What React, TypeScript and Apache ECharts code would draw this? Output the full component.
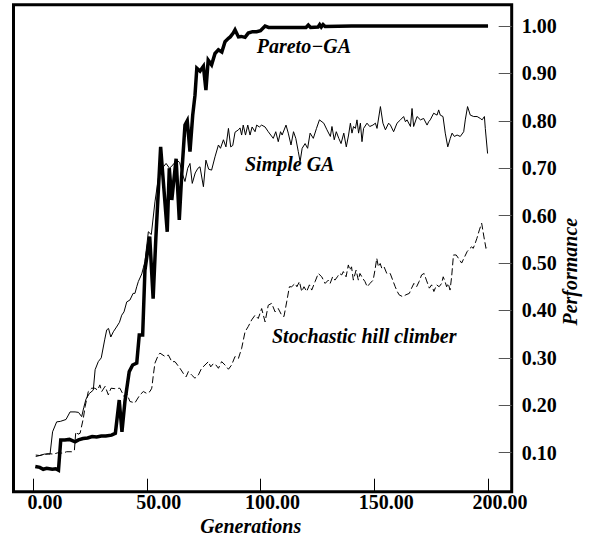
import React, { useEffect, useRef } from 'react';
import * as echarts from 'echarts';

const xTickValues = [0, 50, 100, 150, 200];
const xTickLabels = ['0.00', '50.00', '100.00', '150.00', '200.00'];
const yTickValues = [0.1, 0.2, 0.3, 0.4, 0.5, 0.6, 0.7, 0.8, 0.9, 1.0];
const yTickLabels = ['0.10', '0.20', '0.30', '0.40', '0.50', '0.60', '0.70', '0.80', '0.90', '1.00'];

const seriesNames = ['Pareto−GA', 'Simple GA', 'Stochastic hill climber'];
const xAxisName = 'Generations';
const yAxisName = 'Performance';

const paretoGA: [number, number][] = [
  [1, 0.071], [3, 0.069], [4.5, 0.065], [6, 0.067], [8.5, 0.065], [10, 0.066], [11.2, 0.063], [12.2, 0.127],
  [14, 0.127], [16, 0.128], [18.5, 0.123], [20, 0.127], [22, 0.13], [24, 0.131], [26, 0.134], [28, 0.133],
  [30, 0.135], [32, 0.135], [34.5, 0.137], [36.2, 0.141], [37.9, 0.211], [39.1, 0.144], [40.4, 0.208],
  [42.3, 0.271], [43.8, 0.285], [45.6, 0.289], [46.7, 0.348], [48.2, 0.348], [49.2, 0.485], [51.3, 0.556],
  [52.8, 0.425], [54, 0.553], [56.1, 0.745], [59, 0.566], [59.9, 0.7], [61, 0.633], [62.9, 0.72], [64.3, 0.591],
  [65.4, 0.689], [66.8, 0.791], [67.8, 0.8], [69, 0.735], [70.2, 0.812], [71.2, 0.854], [72, 0.911],
  [73.4, 0.905], [74.9, 0.915], [76, 0.865], [77, 0.928], [78.5, 0.918], [80, 0.942], [81.5, 0.95], [83, 0.945],
  [84.4, 0.967], [85.9, 0.974], [86.7, 0.977], [88, 0.985], [88.8, 0.992], [90.3, 0.977], [91.5, 0.978],
  [93.2, 0.976], [94.6, 0.985], [96.5, 0.988], [98.3, 0.988], [100, 0.99], [102, 1.0], [103.5, 0.997],
  [110, 0.997], [120, 0.997], [121, 1.002], [122, 0.997], [125.3, 0.998], [126, 1.003], [126.7, 0.998],
  [127.5, 1.003], [128.4, 0.999], [140, 1.0], [160, 1.0], [180, 1.0], [200, 1.0],
];

const simpleGA: [number, number][] = [
  [1.2, 0.095], [3, 0.094], [5, 0.097], [7.5, 0.097], [8.6, 0.144], [10.4, 0.165], [12, 0.166], [14.5, 0.17],
  [16.3, 0.186], [18.5, 0.186], [20, 0.185], [21.4, 0.176], [22.3, 0.195], [23.3, 0.213], [24.8, 0.225],
  [26.5, 0.232], [27.3, 0.275], [28.7, 0.292], [30, 0.3], [31.5, 0.338], [32.4, 0.359], [33.2, 0.362],
  [34.2, 0.344], [35.3, 0.355], [36.7, 0.365], [38, 0.375], [39, 0.39], [40, 0.397], [41.2, 0.418],
  [42.6, 0.422], [44, 0.436], [44.8, 0.436], [45.6, 0.45], [46.3, 0.461], [47.8, 0.477], [48.5, 0.49],
  [49.2, 0.503], [50.7, 0.566], [52, 0.56], [53.6, 0.629], [55.1, 0.679], [56, 0.693], [57.3, 0.703],
  [58.5, 0.71], [60, 0.7], [61.5, 0.707], [63.2, 0.717], [64.5, 0.712], [65.5, 0.69], [66.8, 0.672], [68, 0.7],
  [69, 0.71], [70, 0.668], [71.3, 0.69], [72.5, 0.7], [73.4, 0.703], [74.9, 0.661], [76, 0.717], [77.2, 0.698],
  [78.5, 0.696], [80, 0.724], [81.5, 0.749], [82.4, 0.742], [83.7, 0.76], [84.8, 0.745], [85.9, 0.784],
  [86.9, 0.745], [87.8, 0.748], [88.8, 0.776], [90.3, 0.781], [91, 0.785], [91.7, 0.77], [92.4, 0.791],
  [93.4, 0.77], [94.4, 0.791], [95.4, 0.77], [96.3, 0.787], [97.6, 0.777], [98.3, 0.791], [99.5, 0.787],
  [100.5, 0.791], [102, 0.787], [103.4, 0.777], [104.5, 0.77], [105.6, 0.763], [106.7, 0.777], [107.8, 0.756],
  [108.8, 0.777], [109.5, 0.77], [111.2, 0.791], [112.2, 0.774], [113.4, 0.749], [114.5, 0.777], [115.5, 0.763],
  [116.6, 0.735], [117.4, 0.714], [118.3, 0.742], [119.6, 0.752], [120.7, 0.742], [121.8, 0.774], [123.2, 0.763],
  [124.6, 0.784], [125.9, 0.802], [127.8, 0.795], [129.2, 0.781], [130.7, 0.767], [131.4, 0.788], [132.4, 0.76],
  [133.3, 0.777], [134.4, 0.763], [135.4, 0.752], [136.6, 0.774], [137.7, 0.745], [138.7, 0.77], [139.5, 0.795],
  [140.2, 0.774], [140.9, 0.788], [141.7, 0.784], [142.4, 0.802], [143.1, 0.774], [143.9, 0.795], [144.6, 0.756],
  [145.3, 0.784], [146.8, 0.795], [148, 0.788], [149.4, 0.791], [150.5, 0.795], [151.2, 0.784], [152.7, 0.83],
  [153.8, 0.795], [154.9, 0.781], [156.3, 0.795], [157.1, 0.791], [158.5, 0.777], [160, 0.795], [161.5, 0.802],
  [162.9, 0.809], [163.7, 0.798], [164.4, 0.802], [165.9, 0.788], [166.6, 0.826], [167.3, 0.788], [168.8, 0.809],
  [170.3, 0.802], [171.7, 0.805], [173.2, 0.791], [173.9, 0.798], [174.6, 0.802], [176.1, 0.816], [177.6, 0.812],
  [178.3, 0.823], [179, 0.812], [180.2, 0.809], [181.2, 0.774], [182.3, 0.745], [183.4, 0.763], [184.2, 0.774],
  [185.2, 0.767], [186.4, 0.77], [187.8, 0.767], [189.3, 0.777], [190, 0.802], [191, 0.83], [192.2, 0.812],
  [193.7, 0.809], [195.2, 0.809], [196.6, 0.805], [197.4, 0.802], [198.4, 0.809], [198.8, 0.784], [199.8, 0.731],
];

const hillClimber: [number, number][] = [
  [1.2, 0.092], [3.8, 0.095], [6.7, 0.098], [9, 0.097], [11.1, 0.1], [13, 0.099], [14.8, 0.102], [17, 0.102],
  [18.2, 0.105], [18.8, 0.144], [19.8, 0.139], [20.7, 0.141], [22.1, 0.172], [22.9, 0.197], [24.3, 0.229],
  [25.8, 0.236], [27.2, 0.236], [28.4, 0.232], [29.4, 0.243], [30.2, 0.229], [31.7, 0.24], [33.1, 0.222],
  [34.3, 0.236], [36, 0.235], [38.2, 0.236], [40.1, 0.218], [41.2, 0.225], [42.6, 0.208], [44.8, 0.205],
  [47, 0.222], [48.5, 0.229], [50, 0.225], [51.4, 0.229], [52.2, 0.236], [52.9, 0.264], [53.6, 0.289],
  [55.1, 0.306], [55.8, 0.31], [58, 0.303], [59.5, 0.306], [61, 0.292], [62.4, 0.292], [64.6, 0.278],
  [66.1, 0.267], [67.3, 0.26], [68.3, 0.271], [69.7, 0.264], [71.2, 0.257], [72.7, 0.264], [74.1, 0.278],
  [75.6, 0.285], [77.1, 0.292], [78.1, 0.281], [79.3, 0.288], [80.4, 0.285], [81.5, 0.278], [82.9, 0.292],
  [84.4, 0.285], [85.9, 0.276], [87.3, 0.285], [88.8, 0.303], [90.3, 0.299], [91.7, 0.32], [93.2, 0.355],
  [94.6, 0.366], [96.1, 0.38], [97.6, 0.39], [99, 0.383], [100.5, 0.404], [102, 0.376], [103.4, 0.411],
  [104.9, 0.415], [106.4, 0.397], [107.8, 0.404], [109.3, 0.39], [110.3, 0.387], [111.5, 0.418], [112.7, 0.45],
  [113.7, 0.45], [115.2, 0.457], [116, 0.45], [117.1, 0.461], [118.1, 0.44], [119.1, 0.45], [120.3, 0.44],
  [121.5, 0.454], [122.5, 0.443], [124, 0.461], [125.4, 0.478], [126.9, 0.471], [128.4, 0.457], [129.8, 0.464],
  [130.6, 0.457], [131.7, 0.471], [132.7, 0.464], [133.8, 0.471], [134.7, 0.478], [135.7, 0.475], [136.4, 0.482],
  [137.6, 0.471], [138.6, 0.496], [139.3, 0.485], [140, 0.492], [140.8, 0.464], [142, 0.485], [143, 0.464],
  [143.7, 0.478], [144.9, 0.468], [145.9, 0.461], [146.9, 0.45], [148.1, 0.457], [149.5, 0.464], [150.3, 0.485],
  [151.1, 0.51], [151.8, 0.492], [152.6, 0.499], [153.3, 0.489], [154.3, 0.492], [155.5, 0.478], [157, 0.478],
  [158.1, 0.464], [159.2, 0.45], [160.1, 0.44], [160.9, 0.433], [162.5, 0.429], [163.9, 0.433], [165.4, 0.436],
  [166.4, 0.447], [167.4, 0.457], [168.6, 0.45], [169.7, 0.461], [170.8, 0.475], [171.9, 0.478], [172.9, 0.464],
  [174.2, 0.447], [175.2, 0.454], [176.2, 0.44], [177.4, 0.454], [178.5, 0.45], [179.6, 0.457], [180.3, 0.471],
  [181.1, 0.461], [181.8, 0.45], [182.5, 0.457], [183.3, 0.443], [184, 0.471], [184.8, 0.517], [186, 0.517],
  [187, 0.51], [188.4, 0.5], [189.4, 0.51], [190.8, 0.524], [192, 0.531], [192.8, 0.534], [193.5, 0.531],
  [194.3, 0.541], [195.1, 0.552], [196.2, 0.57], [197.2, 0.584], [198.2, 0.555], [199.1, 0.531], [199.7, 0.534],
];

const SERIF = '"Liberation Serif", "Times New Roman", serif';
const LABEL_FONT = `italic bold 20px ${SERIF}`;

function lookup(values: number[], labels: string[], v: number): string {
  for (let i = 0; i < values.length; i++) {
    if (Math.abs(values[i] - v) < 1e-6) return labels[i];
  }
  return '';
}

export default function App() {
  const ref = useRef<HTMLDivElement>(null);

  useEffect(() => {
    if (!ref.current) return;
    const chart = echarts.init(ref.current, undefined, { renderer: 'svg' });
    chart.setOption({
      animation: false,
      backgroundColor: '#fff',
      grid: {
        left: 13.5,
        top: 4.8,
        right: 85.3,
        bottom: 43.3,
        show: true,
        borderWidth: 3,
        borderColor: '#000',
        backgroundColor: 'transparent',
        containLabel: false,
        outerBoundsMode: 'none',
      },
      xAxis: {
        type: 'value',
        min: -8.57,
        max: 210.4,
        axisLine: { show: false, onZero: false },
        splitLine: { show: false },
        axisTick: {
          show: true,
          inside: true,
          length: 13,
          customValues: xTickValues,
          lineStyle: { color: '#000', width: 1 },
        },
        axisLabel: {
          customValues: xTickValues,
          formatter: (v: number) => lookup(xTickValues, xTickLabels, v),
          fontFamily: SERIF,
          fontWeight: 'bold',
          fontSize: 20,
          color: '#000',
          margin: 0,
          padding: [0, 0, 0, 24],
        },
      },
      yAxis: {
        type: 'value',
        position: 'right',
        min: 0.0177,
        max: 1.0447,
        axisLine: { show: false, onZero: false },
        splitLine: { show: false },
        axisTick: {
          show: true,
          inside: true,
          length: 13,
          customValues: yTickValues,
          lineStyle: { color: '#555', width: 1 },
        },
        axisLabel: {
          customValues: yTickValues,
          formatter: (v: number) => lookup(yTickValues, yTickLabels, v),
          fontFamily: SERIF,
          fontWeight: 'bold',
          fontSize: 20,
          color: '#000',
          margin: 10,
          padding: [0, 0, 9, 0],
        },
      },
      series: [
        {
          name: seriesNames[0],
          type: 'line',
          data: paretoGA,
          symbol: 'none',
          lineStyle: { color: '#000', width: 3.5, join: 'miter' },
          z: 4,
        },
        {
          name: seriesNames[1],
          type: 'line',
          data: simpleGA,
          symbol: 'none',
          lineStyle: { color: '#000', width: 1 },
          z: 3,
        },
        {
          name: seriesNames[2],
          type: 'line',
          data: hillClimber,
          symbol: 'none',
          lineStyle: { color: '#000', width: 1, type: [7, 3] },
          z: 3,
        },
      ],
      graphic: [
        {
          type: 'text', x: 256.7, y: 46.3,
          style: { text: seriesNames[0], font: LABEL_FONT, fill: '#000', align: 'left', verticalAlign: 'middle' },
        },
        {
          type: 'text', x: 245, y: 163.7,
          style: { text: seriesNames[1], font: LABEL_FONT, fill: '#000', align: 'left', verticalAlign: 'middle' },
        },
        {
          type: 'text', x: 272, y: 335.8,
          style: { text: seriesNames[2], font: LABEL_FONT, fill: '#000', align: 'left', verticalAlign: 'middle' },
        },
        {
          type: 'text', x: 250.7, y: 525.5,
          style: { text: xAxisName, font: LABEL_FONT, fill: '#000', align: 'center', verticalAlign: 'middle' },
        },
        {
          type: 'text', x: 569.5, y: 271.7, rotation: Math.PI / 2,
          style: { text: yAxisName, font: LABEL_FONT, fill: '#000', align: 'center', verticalAlign: 'middle' },
        },
      ],
    });
    return () => chart.dispose();
  }, []);

  return (
    <div
      ref={ref}
      style={{ position: 'absolute', left: 0, top: 0, width: 597, height: 535, background: '#fff' }}
    />
  );
}
